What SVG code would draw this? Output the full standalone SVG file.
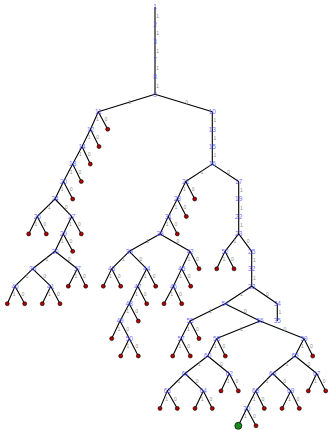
<svg xmlns="http://www.w3.org/2000/svg" width="328" height="430" viewBox="0 0 328 430">
<style>
.e{stroke:#000;stroke-width:1.1;fill:none}
.el{font-family:"Liberation Sans",Arial,sans-serif;font-size:5px;fill:#8c8c8c;text-anchor:middle}
.nl{font-family:"Liberation Sans",Arial,sans-serif;font-size:6.5px;fill:#4d4dff;fill-opacity:0.85;text-anchor:middle}
.lf{fill:#b00000;stroke:#000;stroke-width:0.6}
.gl{fill:#1a8a1a;stroke:#000;stroke-width:0.7}
</style>
<rect width="328" height="430" fill="#fff"/>
<g id="connectors">
<path class="e" d="M155,7V94.3 M155,94.3L98.3,111.7 M155,94.3L212.3,111.7
M98.3,111.7L90.5,129.2 M98.3,111.7L107.7,129.2 M90.5,129.2L82,146.6 M90.5,129.2L99,146.6
M82,146.6L72.7,164.1 M82,146.6L90.3,164.1 M72.7,164.1L63.5,181.5 M72.7,164.1L81.3,181.5
M63.5,181.5L55,199 M63.5,181.5L72.7,199 M55,199L37.3,216.4 M55,199L71.7,216.4
M37.3,216.4L28.7,233.9 M37.3,216.4L46.3,233.9 M71.7,216.4L63.3,233.9 M71.7,216.4L81.3,233.9
M63.3,233.9L55,251.3 M63.3,233.9L72.7,251.3 M55,251.3L32.7,268.8 M55,251.3L77.3,268.8
M32.7,268.8L15,286.2 M32.7,268.8L50.7,286.2 M77.3,268.8L68.3,286.2 M77.3,268.8L85.7,286.2
M15,286.2L7.3,303.7 M15,286.2L24.7,303.7 M50.7,286.2L42.3,303.7 M50.7,286.2L60,303.7
M212.3,111.7V164.1 M212.3,164.1L185.7,181.5 M212.3,164.1L238.7,181.5
M185.7,181.5L177.3,199 M185.7,181.5L194.7,199 M177.3,199L168.3,216.4 M177.3,199L186.3,216.4
M168.3,216.4L160,233.9 M168.3,216.4L177.3,233.9 M160,233.9L129.3,251.3 M160,233.9L190,251.3
M129.3,251.3L111.7,268.8 M129.3,251.3L146.7,268.8 M111.7,268.8L103.3,286.2 M111.7,268.8L120.7,286.2
M146.7,268.8L137.7,286.2 M146.7,268.8L155.7,286.2 M137.7,286.2L129.2,303.7 M137.7,286.2L146.7,303.7
M129.2,303.7L120,321.1 M129.2,303.7L138.3,321.1 M120,321.1L111.7,338.6 M120,321.1L129.3,338.6
M129.3,338.6L120.7,356 M129.3,338.6L138.3,356
M190,251.3L181.7,268.8 M190,251.3L199,268.8 M181.7,268.8L173.3,286.2 M181.7,268.8L190.7,286.2
M173.3,286.2L164,303.7 M173.3,286.2L181.7,303.7
M238.7,181.5V233.9 M238.7,233.9L225,251.3 M238.7,233.9L251.7,251.3
M225,251.3L216.7,268.8 M225,251.3L234,268.8 M251.7,251.3V286.2
M251.7,286.2L225,303.7 M251.7,286.2L277.3,303.7 M277.3,303.7V321.1
M225,303.7L190,321.1 M225,303.7L260,321.1 M190,321.1L181,338.6 M190,321.1L199,338.6
M181,338.6L172.7,356 M181,338.6L190.3,356 M260,321.1L216.7,338.6 M260,321.1L304,338.6
M216.7,338.6L207.7,356 M216.7,338.6L225.3,356 M207.7,356L185,373.5 M207.7,356L229.3,373.5
M185,373.5L167.3,390.9 M185,373.5L203.3,390.9 M167.3,390.9L160,408.4 M167.3,390.9L177.3,408.4
M203.3,390.9L195,408.4 M203.3,390.9L212.3,408.4 M229.3,373.5L221,390.9 M229.3,373.5L238.3,390.9
M304,338.6L295,356 M304,338.6L312.7,356 M295,356L272.7,373.5 M295,356L316.7,373.5
M272.7,373.5L255.7,390.9 M272.7,373.5L290.7,390.9 M255.7,390.9L246.7,408.4 M255.7,390.9L264.3,408.4
M246.7,408.4L238.3,425.8 M246.7,408.4L256,425.8 M290.7,390.9L282,408.4 M290.7,390.9L299.3,408.4
M316.7,373.5L308.3,390.9 M316.7,373.5L325.7,390.9"/>
<g id="edge-labels">
<text class="el" x="157.7" y="17.7">1</text><text class="el" x="157.7" y="35.2">1</text><text class="el" x="157.7" y="52.6">1</text><text class="el" x="157.7" y="70.1">1</text><text class="el" x="157.7" y="87.5">1</text>
<text class="el" x="129.6" y="103.8">1</text><text class="el" x="186.6" y="103.8">0</text>
<text class="el" x="97.4" y="121.2">1</text><text class="el" x="106" y="121.2">0</text>
<text class="el" x="89.2" y="138.7">1</text><text class="el" x="97.7" y="138.7">0</text>
<text class="el" x="80.3" y="156.2">1</text><text class="el" x="89.1" y="156.2">0</text>
<text class="el" x="71.1" y="173.6">1</text><text class="el" x="80" y="173.6">0</text>
<text class="el" x="62.2" y="191">1</text><text class="el" x="71.1" y="191">0</text>
<text class="el" x="49.1" y="208.5">1</text><text class="el" x="66.3" y="208.5">0</text>
<text class="el" x="36" y="226">1</text><text class="el" x="44.8" y="226">0</text>
<text class="el" x="70.5" y="226">1</text><text class="el" x="79.5" y="226">0</text>
<text class="el" x="62.1" y="243.4">1</text><text class="el" x="71" y="243.4">0</text>
<text class="el" x="46.8" y="260.9">1</text><text class="el" x="69.1" y="260.9">0</text>
<text class="el" x="26.8" y="278.3">1</text><text class="el" x="44.7" y="278.3">0</text>
<text class="el" x="75.8" y="278.3">1</text><text class="el" x="84.5" y="278.3">0</text>
<text class="el" x="14.1" y="295.8">1</text><text class="el" x="22.8" y="295.8">0</text>
<text class="el" x="49.5" y="295.8">1</text><text class="el" x="58.3" y="295.8">0</text>
<text class="el" x="215" y="122.4">1</text><text class="el" x="215" y="139.9">1</text><text class="el" x="215" y="157.4">1</text>
<text class="el" x="202" y="173.6">1</text><text class="el" x="228.6" y="173.6">0</text>
<text class="el" x="184.5" y="191">1</text><text class="el" x="193.2" y="191">0</text>
<text class="el" x="175.8" y="208.5">1</text><text class="el" x="184.8" y="208.5">0</text>
<text class="el" x="167.1" y="226">1</text><text class="el" x="175.8" y="226">0</text>
<text class="el" x="147.6" y="243.4">1</text><text class="el" x="178" y="243.4">0</text>
<text class="el" x="123.5" y="260.9">1</text><text class="el" x="141" y="260.9">0</text>
<text class="el" x="110.5" y="278.3">1</text><text class="el" x="119.2" y="278.3">0</text>
<text class="el" x="145.2" y="278.3">1</text><text class="el" x="154.2" y="278.3">0</text>
<text class="el" x="136.4" y="295.8">1</text><text class="el" x="145.2" y="295.8">0</text>
<text class="el" x="127.6" y="313.2">1</text><text class="el" x="136.7" y="313.2">0</text>
<text class="el" x="118.8" y="330.7">1</text><text class="el" x="127.6" y="330.7">0</text>
<text class="el" x="128" y="348.1">1</text><text class="el" x="136.8" y="348.1">0</text>
<text class="el" x="188.8" y="260.9">1</text><text class="el" x="197.5" y="260.9">0</text>
<text class="el" x="180.5" y="278.3">1</text><text class="el" x="189.2" y="278.3">0</text>
<text class="el" x="171.6" y="295.8">1</text><text class="el" x="180.5" y="295.8">0</text>
<text class="el" x="241.4" y="192.2">1</text><text class="el" x="241.4" y="209.7">1</text><text class="el" x="241.4" y="227.1">1</text>
<text class="el" x="234.8" y="243.4">1</text><text class="el" x="248.2" y="243.4">0</text>
<text class="el" x="223.8" y="260.9">1</text><text class="el" x="232.5" y="260.9">0</text>
<text class="el" x="254.4" y="262">1</text><text class="el" x="254.4" y="279.5">1</text>
<text class="el" x="241.3" y="295.8">1</text><text class="el" x="267.5" y="295.8">0</text>
<text class="el" x="280" y="314.4">1</text>
<text class="el" x="210.5" y="313.2">1</text><text class="el" x="245.5" y="313.2">0</text>
<text class="el" x="188.5" y="330.7">1</text><text class="el" x="197.5" y="330.7">0</text>
<text class="el" x="179.8" y="348.1">1</text><text class="el" x="188.6" y="348.1">0</text>
<text class="el" x="241.3" y="330.7">1</text><text class="el" x="285" y="330.7">0</text>
<text class="el" x="215.2" y="348.1">1</text><text class="el" x="224" y="348.1">0</text>
<text class="el" x="199.3" y="365.6">1</text><text class="el" x="221.5" y="365.6">0</text>
<text class="el" x="179.1" y="383">1</text><text class="el" x="197.1" y="383">0</text>
<text class="el" x="166.6" y="400.5">1</text><text class="el" x="175.3" y="400.5">0</text>
<text class="el" x="202.1" y="400.5">1</text><text class="el" x="210.8" y="400.5">0</text>
<text class="el" x="228.1" y="383">1</text><text class="el" x="236.8" y="383">0</text>
<text class="el" x="302.5" y="348.1">1</text><text class="el" x="311.3" y="348.1">0</text>
<text class="el" x="286.8" y="365.6">1</text><text class="el" x="308.8" y="365.6">0</text>
<text class="el" x="267.2" y="383">1</text><text class="el" x="284.7" y="383">0</text>
<text class="el" x="254.2" y="400.5">1</text><text class="el" x="263" y="400.5">0</text>
<text class="el" x="245.5" y="417.9">1</text><text class="el" x="254.3" y="417.9">0</text>
<text class="el" x="289.3" y="400.5">1</text><text class="el" x="298" y="400.5">0</text>
<text class="el" x="315.5" y="383">1</text><text class="el" x="324.2" y="383">0</text>
</g>
</g>
<g id="nodes">
<g id="n1"><text class="nl" x="155" y="9.3">1</text></g>
<g id="n2"><text class="nl" x="155" y="26.8">2</text></g>
<g id="n3"><text class="nl" x="155" y="44.2">3</text></g>
<g id="n7"><text class="nl" x="155" y="61.7">7</text></g>
<g id="n8"><text class="nl" x="155" y="79.1">8</text></g>
<g id="n9"><text class="nl" x="155" y="96.6">9</text></g>
<g id="n11"><text class="nl" x="98.3" y="114">11</text></g>
<g id="n12"><text class="nl" x="90.5" y="131.5">12</text></g>
<g id="n14"><text class="nl" x="82" y="148.9">14</text></g>
<g id="n18"><text class="nl" x="72.7" y="166.4">18</text></g>
<g id="n20"><text class="nl" x="63.5" y="183.8">20</text></g>
<g id="n24"><text class="nl" x="55" y="201.3">24</text></g>
<g id="n26"><text class="nl" x="37.3" y="218.7">26</text></g>
<g id="n27"><text class="nl" x="71.7" y="218.7">27</text></g>
<g id="n29"><text class="nl" x="63.3" y="236.2">29</text></g>
<g id="n30"><text class="nl" x="55" y="253.6">30</text></g>
<g id="n36"><text class="nl" x="32.7" y="271.1">36</text></g>
<g id="n37"><text class="nl" x="77.3" y="271.1">37</text></g>
<g id="n40"><text class="nl" x="15" y="288.5">40</text></g>
<g id="n41"><text class="nl" x="50.7" y="288.5">41</text></g>
<g id="n10"><text class="nl" x="212.3" y="114">10</text></g>
<g id="n13"><text class="nl" x="212.3" y="131.5">13</text></g>
<g id="n15"><text class="nl" x="212.3" y="148.9">15</text></g>
<g id="n16"><text class="nl" x="212.3" y="166.4">16</text></g>
<g id="n21"><text class="nl" x="185.7" y="183.8">21</text></g>
<g id="n28"><text class="nl" x="177.3" y="201.3">28</text></g>
<g id="n31"><text class="nl" x="168.3" y="218.7">31</text></g>
<g id="n38"><text class="nl" x="160" y="236.2">38</text></g>
<g id="n39"><text class="nl" x="129.3" y="253.6">39</text></g>
<g id="n42"><text class="nl" x="190" y="253.6">42</text></g>
<g id="n43"><text class="nl" x="111.7" y="271.1">43</text></g>
<g id="n44"><text class="nl" x="146.7" y="271.1">44</text></g>
<g id="n47"><text class="nl" x="137.7" y="288.5">47</text></g>
<g id="n48"><text class="nl" x="129.2" y="306">48</text></g>
<g id="n49"><text class="nl" x="120" y="323.4">49</text></g>
<g id="n50"><text class="nl" x="129.3" y="340.9">50</text></g>
<g id="n45"><text class="nl" x="181.7" y="271.1">45</text></g>
<g id="n46"><text class="nl" x="173.3" y="288.5">46</text></g>
<g id="n17"><text class="nl" x="238.7" y="183.8">17</text></g>
<g id="n19"><text class="nl" x="238.7" y="201.3">19</text></g>
<g id="n22"><text class="nl" x="238.7" y="218.7">22</text></g>
<g id="n23"><text class="nl" x="238.7" y="236.2">23</text></g>
<g id="n52"><text class="nl" x="225" y="253.6">52</text></g>
<g id="n25"><text class="nl" x="251.7" y="253.6">25</text></g>
<g id="n32"><text class="nl" x="251.7" y="271.1">32</text></g>
<g id="n33"><text class="nl" x="251.7" y="288.5">33</text></g>
<g id="n34"><text class="nl" x="277.3" y="306">34</text></g>
<g id="n35"><text class="nl" x="277.3" y="323.4">35</text></g>
<g id="n54"><text class="nl" x="225" y="306">54</text></g>
<g id="n55"><text class="nl" x="190" y="323.4">55</text></g>
<g id="n56"><text class="nl" x="260" y="323.4">56</text></g>
<g id="n57"><text class="nl" x="181" y="340.9">57</text></g>
<g id="n58"><text class="nl" x="216.7" y="340.9">58</text></g>
<g id="n59"><text class="nl" x="304" y="340.9">59</text></g>
<g id="n60"><text class="nl" x="207.7" y="358.3">60</text></g>
<g id="n61"><text class="nl" x="185" y="375.8">61</text></g>
<g id="n62"><text class="nl" x="229.3" y="375.8">62</text></g>
<g id="n63"><text class="nl" x="167.3" y="393.2">63</text></g>
<g id="n64"><text class="nl" x="203.3" y="393.2">64</text></g>
<g id="n65"><text class="nl" x="295" y="358.3">65</text></g>
<g id="n66"><text class="nl" x="272.7" y="375.8">66</text></g>
<g id="n67"><text class="nl" x="316.7" y="375.8">67</text></g>
<g id="n68"><text class="nl" x="255.7" y="393.2">68</text></g>
<g id="n69"><text class="nl" x="290.7" y="393.2">69</text></g>
<g id="n70"><text class="nl" x="246.7" y="410.7">70</text></g>
<g id="leaves">
<circle class="lf" cx="107.7" cy="129.2" r="2"/><circle class="lf" cx="99" cy="146.6" r="2"/>
<circle class="lf" cx="90.3" cy="164.1" r="2"/><circle class="lf" cx="81.3" cy="181.5" r="2"/>
<circle class="lf" cx="72.7" cy="199" r="2"/><circle class="lf" cx="28.7" cy="233.9" r="2"/>
<circle class="lf" cx="46.3" cy="233.9" r="2"/><circle class="lf" cx="81.3" cy="233.9" r="2"/>
<circle class="lf" cx="72.7" cy="251.3" r="2"/><circle class="lf" cx="68.3" cy="286.2" r="2"/>
<circle class="lf" cx="85.7" cy="286.2" r="2"/><circle class="lf" cx="7.3" cy="303.7" r="2"/>
<circle class="lf" cx="24.7" cy="303.7" r="2"/><circle class="lf" cx="42.3" cy="303.7" r="2"/>
<circle class="lf" cx="60" cy="303.7" r="2"/>
<circle class="lf" cx="194.7" cy="199" r="2"/><circle class="lf" cx="186.3" cy="216.4" r="2"/>
<circle class="lf" cx="177.3" cy="233.9" r="2"/><circle class="lf" cx="103.3" cy="286.2" r="2"/>
<circle class="lf" cx="120.7" cy="286.2" r="2"/><circle class="lf" cx="155.7" cy="286.2" r="2"/>
<circle class="lf" cx="146.7" cy="303.7" r="2"/><circle class="lf" cx="138.3" cy="321.1" r="2"/>
<circle class="lf" cx="111.7" cy="338.6" r="2"/><circle class="lf" cx="120.7" cy="356" r="2"/>
<circle class="lf" cx="138.3" cy="356" r="2"/><circle class="lf" cx="199" cy="268.8" r="2"/>
<circle class="lf" cx="190.7" cy="286.2" r="2"/><circle class="lf" cx="164" cy="303.7" r="2"/>
<circle class="lf" cx="181.7" cy="303.7" r="2"/>
<circle class="lf" cx="216.7" cy="268.8" r="2"/><circle class="lf" cx="234" cy="268.8" r="2"/>
<circle class="lf" cx="199" cy="338.6" r="2"/><circle class="lf" cx="172.7" cy="356" r="2"/>
<circle class="lf" cx="190.3" cy="356" r="2"/><circle class="lf" cx="225.3" cy="356" r="2"/>
<circle class="lf" cx="160" cy="408.4" r="2"/><circle class="lf" cx="177.3" cy="408.4" r="2"/>
<circle class="lf" cx="195" cy="408.4" r="2"/><circle class="lf" cx="212.3" cy="408.4" r="2"/>
<circle class="lf" cx="221" cy="390.9" r="2"/><circle class="lf" cx="238.3" cy="390.9" r="2"/>
<circle class="lf" cx="312.7" cy="356" r="2"/><circle class="lf" cx="264.3" cy="408.4" r="2"/>
<circle class="lf" cx="256" cy="425.8" r="2"/><circle class="lf" cx="282" cy="408.4" r="2"/>
<circle class="lf" cx="299.3" cy="408.4" r="2"/><circle class="lf" cx="308.3" cy="390.9" r="2"/>
<circle class="lf" cx="325.7" cy="390.9" r="2"/>
<circle class="gl" cx="238.3" cy="425.8" r="3.5"/>
</g>
</g>
</svg>
